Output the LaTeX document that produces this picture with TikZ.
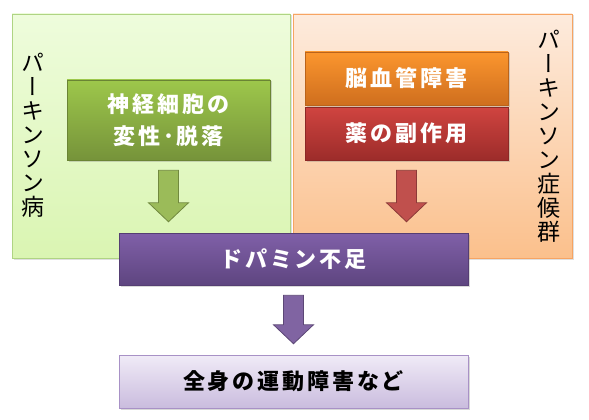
\documentclass[tikz,border=0pt]{standalone}
\usepackage{fontspec}
\setmainfont{Noto Sans CJK JP}
\newfontfamily\boxjp[LetterSpace=13]{Noto Sans CJK JP}
\newfontfamily\vjp[RawFeature=+vert]{Noto Sans CJK JP}
\usetikzlibrary{calc,shadows}
\definecolor{lgreentop}{HTML}{EEFCDC}
\definecolor{lgreenbot}{HTML}{DAF5B2}
\definecolor{lgreenline}{HTML}{AFD483}
\definecolor{lorangetop}{HTML}{FDEBDD}
\definecolor{lorangebot}{HTML}{FBC08C}
\definecolor{lorangeline}{HTML}{F7A462}
\definecolor{greentop}{HTML}{9DC74B}
\definecolor{greenbot}{HTML}{76933A}
\definecolor{orangetop}{HTML}{FB962E}
\definecolor{orangebot}{HTML}{CF6E1E}
\definecolor{redtop}{HTML}{D04440}
\definecolor{redbot}{HTML}{9C2C2A}
\definecolor{purpletop}{HTML}{8060A8}
\definecolor{purplebot}{HTML}{5E4580}
\definecolor{lpurpletop}{HTML}{F0EBF7}
\definecolor{lpurplebot}{HTML}{CABCDE}
\definecolor{lpurpleline}{HTML}{A891C6}
\definecolor{arrgreen}{HTML}{9BBB59}
\definecolor{arrgreenline}{HTML}{71893F}
\definecolor{arrred}{HTML}{C0504D}
\definecolor{arrredline}{HTML}{8C3A38}
\definecolor{arrpurple}{HTML}{8064A2}
\definecolor{arrpurpleline}{HTML}{5C4776}
\tikzset{
  panel/.style={draw=#1line,top color=#1top,bottom color=#1bot,line width=0.8pt,
    drop shadow={shadow xshift=1.5pt,shadow yshift=-1.5pt,opacity=0.25}},
  causebox/.style={draw=#1bot!90!black,top color=#1top,bottom color=#1bot,line width=0.5pt,
    drop shadow={shadow xshift=1.5pt,shadow yshift=-1.5pt,opacity=0.3},
    text=white,font=\boxjp\fontsize{22}{32}\selectfont\bfseries,align=center},
  vlabel/.style={font=\vjp\fontsize{23}{24}\selectfont,align=center,inner sep=0pt},
  blockarr/.style={draw=arr#1line,fill=arr#1,line width=0.8pt,line join=miter}
}
\newcommand{\blockarrow}[3]{%
  \draw[blockarr=#3] ($(#1.south)+(-10,10)$) -- ($(#1.south)+(10,10)$)
    -- ($(#1.south|-#2.north)+(10,-30)$) -- ($(#1.south|-#2.north)+(20,-30)$)
    -- ($(#1.south|-#2.north)+(0,-11)$) -- ($(#1.south|-#2.north)+(-20,-30)$)
    -- ($(#1.south|-#2.north)+(-10,-30)$) -- cycle;}
\begin{document}
\begin{tikzpicture}[x=1pt,y=-1pt]
\useasboundingbox (0,0) rectangle (589,420);
% two panels
\node[panel=lgreen,minimum width=278pt,minimum height=244pt] (pd) at (151,136) {};
\node[panel=lorange,minimum width=279pt,minimum height=244pt] (ps) at (432.5,136) {};
\node[vlabel] (pdlabel) at (33,135) {パ\\ー\\キ\\ン\\ソ\\ン\\病};
\node[vlabel] (pslabel) at (549,136) {パ\\ー\\キ\\ン\\ソ\\ン\\症\\候\\群};
% causes
\foreach \x/\y/\h/\c/\t/\id in {
168.5/120/80/green/神経細胞の\\変性･脱落/neuro,
406.5/78.5/53/orange/脳血管障害/vasc,
406.5/133.5/53/red/薬の副作用/drug}
{
  \node[causebox=\c,minimum width=203pt,minimum height=\h pt] (\id) at (\x,\y) {\t};
}
\node[causebox=purple,minimum width=349pt,minimum height=52pt] (dopa) at (293.5,259) {ドパミン不足};
\node[causebox=lpurple,draw=lpurpleline,text=black,minimum width=349pt,minimum height=53pt] (motor) at (293.5,381.5) {全身の運動障害など};
% arrows
\blockarrow{neuro}{dopa}{green}
\blockarrow{drug}{dopa}{red}
\blockarrow{dopa}{motor}{purple}
\end{tikzpicture}
\end{document}
